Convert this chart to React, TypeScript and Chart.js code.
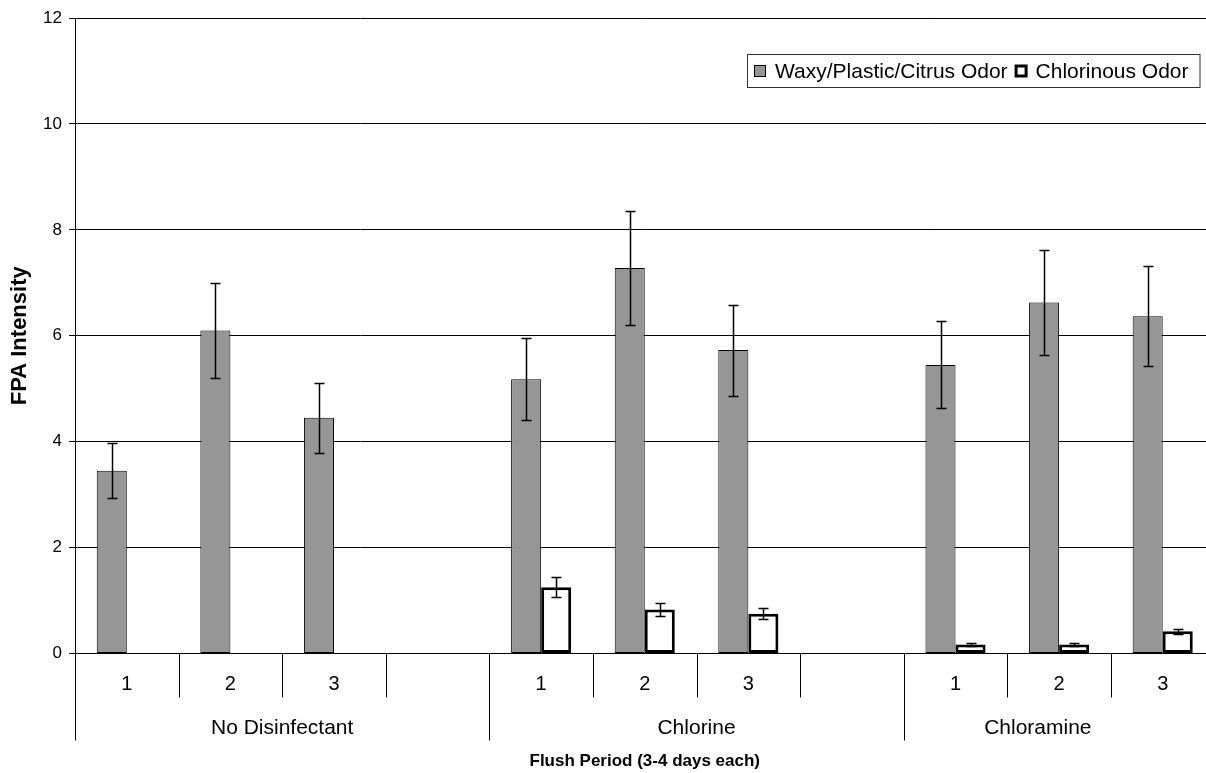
import React, { useEffect, useRef } from 'react';
import { Chart, registerables } from 'chart.js';
Chart.register(...registerables);

const categories = ['1', '2', '3', '', '1', '2', '3', '', '1', '2', '3'];
const groups = ['No Disinfectant', 'Chlorine', 'Chloramine'];
const groupSpans = [4, 4, 3];
const yTicks = [0, 2, 4, 6, 8, 10, 12];
const seriesNames = ['Waxy/Plastic/Citrus Odor', 'Chlorinous Odor'];
const waxy = [3.45, 6.1, 4.45, null, 5.18, 7.28, 5.73, null, 5.45, 6.63, 6.37];
const waxyErr = [0.52, 0.9, 0.66, null, 0.78, 1.08, 0.86, null, 0.82, 0.99, 0.95];
const chlorinous = [0, 0, 0, null, 1.25, 0.83, 0.75, null, 0.17, 0.17, 0.42];
const chlorinousErr = [0, 0, 0, null, 0.19, 0.13, 0.1, null, 0.02, 0.02, 0.05];
const yTitle = 'FPA Intensity';
const xTitle = 'Flush Period (3-4 days each)';

const FONT = "'Liberation Sans', Arial, sans-serif";
const GREY = '#969696';
const CANVAS_W = 1240;
const CANVAS_H = 773;
const VISIBLE_RIGHT = 1172;

const errorBars = {
  id: 'errorBars',
  afterDatasetsDraw(chart: any) {
    const ctx = chart.ctx;
    const y = chart.scales.y;
    const errs = [waxyErr, chlorinousErr];
    chart.data.datasets.forEach((ds: any, di: number) => {
      const meta = chart.getDatasetMeta(di);
      meta.data.forEach((el: any, i: number) => {
        const v = ds.data[i];
        const e = errs[di][i];
        if (v == null || !e) return;
        const x = Math.round(el.x) + 0.5;
        const yt = Math.round(y.getPixelForValue(v + e)) + 0.5;
        const yb = Math.round(y.getPixelForValue(v - e)) + 0.5;
        ctx.save();
        ctx.strokeStyle = '#000';
        ctx.lineWidth = 1.5;
        ctx.beginPath();
        ctx.moveTo(x, yt);
        ctx.lineTo(x, yb);
        ctx.moveTo(x - 5, yt);
        ctx.lineTo(x + 5, yt);
        ctx.moveTo(x - 5, yb);
        ctx.lineTo(x + 5, yb);
        ctx.stroke();
        ctx.restore();
      });
    });
  },
};

const axisDecor = {
  id: 'axisDecor',
  afterDraw(chart: any) {
    const ctx = chart.ctx;
    const xs = chart.scales.x;
    const area = chart.chartArea;
    const w = xs.getPixelForValue(1) - xs.getPixelForValue(0);
    const bottom = area.bottom;
    const groupStarts: number[] = [];
    let acc = 0;
    groupSpans.forEach((s) => {
      groupStarts.push(acc);
      acc += s;
    });
    groupStarts.push(acc);
    ctx.save();
    ctx.strokeStyle = '#000';
    ctx.lineWidth = 1;
    for (let i = 0; i <= categories.length; i++) {
      const bx = Math.round(xs.getPixelForValue(0) - w / 2 + i * w) + 0.5;
      const isGroup = groupStarts.includes(i);
      ctx.beginPath();
      ctx.moveTo(bx, bottom);
      ctx.lineTo(bx, isGroup ? bottom + 87 : bottom + 44);
      ctx.stroke();
    }
    ctx.fillStyle = '#000';
    ctx.textAlign = 'center';
    ctx.textBaseline = 'middle';
    ctx.font = `20px ${FONT}`;
    categories.forEach((c, i) => {
      if (!c) return;
      ctx.fillText(c, xs.getPixelForValue(i), bottom + 31);
    });
    ctx.font = `21px ${FONT}`;
    groups.forEach((g, gi) => {
      const s = xs.getPixelForValue(0) - w / 2 + groupStarts[gi] * w;
      const e = Math.min(xs.getPixelForValue(0) - w / 2 + groupStarts[gi + 1] * w, VISIBLE_RIGHT);
      ctx.fillText(g, (s + e) / 2, bottom + 75);
    });
    ctx.font = `bold 17px ${FONT}`;
    ctx.fillText(xTitle, (area.left + area.right) / 2, bottom + 108);
    ctx.save();
    ctx.translate(19.5, (area.top + area.bottom) / 2);
    ctx.rotate(-Math.PI / 2);
    ctx.font = `bold 22px ${FONT}`;
    ctx.fillText(yTitle, 0, 0);
    ctx.restore();

    ctx.font = `21px ${FONT}`;
    const t0 = ctx.measureText(seriesNames[0]).width;
    const t1 = ctx.measureText(seriesNames[1]).width;
    const sq = 13;
    const padL = 7;
    const padR = 11;
    const gapSqText = 8;
    const gapItems = 7;
    const boxW = padL + sq + gapSqText + t0 + gapItems + sq + gapSqText + t1 + padR;
    const boxRight = area.right - 15;
    const boxLeft = boxRight - boxW;
    const boxTop = area.top + 36.5;
    const boxH = 33;
    const cy = boxTop + boxH / 2;
    ctx.fillStyle = '#fff';
    ctx.fillRect(Math.round(boxLeft) + 0.5, boxTop, boxW, boxH);
    ctx.strokeStyle = '#333';
    ctx.lineWidth = 1;
    ctx.strokeRect(Math.round(boxLeft) + 0.5, boxTop, boxW, boxH);
    let lx = Math.round(boxLeft) + padL;
    ctx.fillStyle = GREY;
    ctx.fillRect(lx, cy - 6, sq - 1, 12);
    ctx.strokeStyle = '#000';
    ctx.strokeRect(lx + 0.5, cy - 5.5, sq - 2, 11);
    lx += sq + gapSqText;
    ctx.fillStyle = '#000';
    ctx.textAlign = 'left';
    ctx.fillText(seriesNames[0], lx, cy + 1);
    lx += t0 + gapItems;
    ctx.fillStyle = '#fff';
    ctx.fillRect(lx + 1.5, cy - 5, sq - 3, 10);
    ctx.lineWidth = 3;
    ctx.strokeStyle = '#000';
    ctx.strokeRect(lx + 1.5, cy - 5, sq - 3, 10);
    lx += sq + gapSqText;
    ctx.fillStyle = '#000';
    ctx.fillText(seriesNames[1], lx, cy + 1);
    ctx.restore();
  },
};

export default function App() {
  const ref = useRef<HTMLCanvasElement>(null);
  useEffect(() => {
    if (!ref.current) return;
    const chart = new Chart(ref.current, {
      type: 'bar',
      data: {
        labels: categories,
        datasets: [
          {
            label: seriesNames[0],
            data: waxy as any,
            backgroundColor: GREY,
            borderColor: '#000',
            borderWidth: 1,
            borderSkipped: false,
          },
          {
            label: seriesNames[1],
            data: chlorinous as any,
            backgroundColor: '#fff',
            borderColor: '#000',
            borderWidth: 3,
            borderSkipped: false,
          },
        ],
      },
      options: {
        responsive: false,
        animation: false,
        devicePixelRatio: 1,
        layout: { padding: { left: 0, top: 18, right: CANVAS_W - 1214.5, bottom: CANVAS_H - 653.5 } },
        datasets: { bar: { categoryPercentage: 0.58, barPercentage: 1 } },
        plugins: { legend: { display: false }, tooltip: { enabled: false } },
        scales: {
          x: {
            grid: { display: false },
            ticks: { display: false },
            border: { display: true, color: '#000', width: 1 },
            afterFit: (s: any) => {
              s.height = 0;
            },
          },
          y: {
            min: yTicks[0],
            max: yTicks[yTicks.length - 1],
            ticks: {
              stepSize: yTicks[1] - yTicks[0],
              color: '#000',
              font: { family: FONT, size: 17 },
              padding: 7,
            },
            grid: { color: '#000', lineWidth: 1, tickLength: 6 },
            border: { display: true, color: '#000', width: 1 },
            afterFit: (s: any) => {
              s.width = 75;
            },
          },
        },
      },
      plugins: [errorBars, axisDecor],
    });
    return () => chart.destroy();
  }, []);
  return (
    <div style={{ position: 'fixed', left: 0, top: 0, width: 1206, height: 773, overflow: 'hidden', background: '#fff' }}>
      <canvas ref={ref} width={CANVAS_W} height={CANVAS_H} style={{ display: 'block' }} />
    </div>
  );
}
